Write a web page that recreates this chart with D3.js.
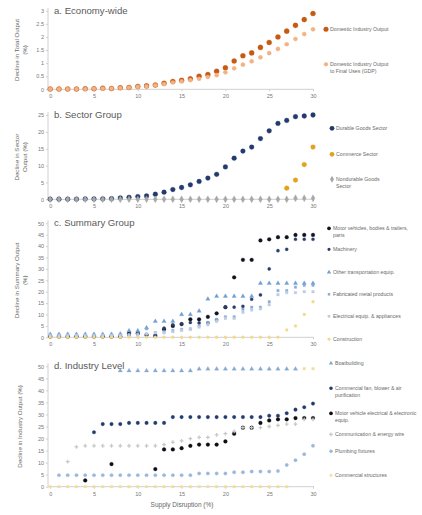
<!DOCTYPE html>
<html>
<head>
<meta charset="utf-8">
<script src="https://cdn.jsdelivr.net/npm/d3@7"></script>
<style>
  body { margin: 0; background: #fff; }
  text { font-family: "Liberation Sans", Arial, sans-serif; }
  .axis path, .axis line { stroke: #d0d0d0; }
  .axis text { fill: #777; font-size: 5.5px; }
  .ptitle { fill: #5a5a5a; font-size: 9.6px; }
  .ytitle { fill: #666; font-size: 6.2px; }
  .leg { fill: #6a6a6a; font-size: 5.2px; }
</style>
</head>
<body>
<div id="chart"></div>
<script>
// supply disruption (%) on x
var disruption = [0,1,2,3,4,5,6,7,8,9,10,11,12,13,14,15,16,17,18,19,20,21,22,23,24,25,26,27,28,29,30];

// a. economy-wide
var domesticOutput = [0.01,0.01,0.01,0.01,0.02,0.02,0.04,0.03,0.06,0.07,0.11,0.13,0.16,0.23,0.30,0.34,0.40,0.50,0.56,0.69,0.82,1.08,1.28,1.39,1.60,1.79,2.00,2.22,2.44,2.66,2.89];
var gdpOutput = [0.01,0.01,0.01,0.01,0.01,0.02,0.03,0.03,0.05,0.06,0.09,0.11,0.15,0.20,0.26,0.30,0.35,0.40,0.47,0.54,0.65,0.80,0.94,1.07,1.22,1.38,1.54,1.72,1.92,2.11,2.29];

// b. sector group
var durableGoods = [0.05,0.05,0.05,0.05,0.1,0.1,0.15,0.2,0.4,0.6,0.8,1.0,1.5,2.1,2.9,3.5,4.3,5.3,6.3,7.4,9.6,12.2,14.3,15.5,18.0,20.3,22.5,23.4,24.5,24.7,25.0];
var commerceSector = [null,null,null,null,null,null,null,null,null,null,null,null,null,null,null,null,null,null,null,null,null,null,null,null,null,null,null,3.3,5.7,10.3,15.5];
var nondurableGoods = [0,0,0,0,0,0,0,0,0,0,0,0,0,0,0,0,0,0,0,0,0,0,0,0,0,0,0,0,0.3,0.3,0.3];

// c. summary group
var motorVehicles = [0.3,0.3,0.3,0.3,0.3,0.3,0.3,0.3,0.3,1.8,1.8,1,0.6,3.5,5,5.8,7.9,7.9,9,10.5,13.2,26.3,34,34,42.5,43,43.9,43.9,44.9,44.9,44.9];
var machinery = [0.3,0.3,0.3,0.3,0.3,0.3,0.3,0.3,0.3,1,1.5,1.2,1,4,5.5,5.8,6.5,6.3,6.3,7.6,13.2,13.2,13.6,16.7,18.6,30,38,38.6,43,43,43];
var otherTransport = [1.3,1.3,1.3,1.3,1.3,1.3,1.3,1.3,1.5,2.9,2.9,4.2,7,7,7,10,10,11.5,16.8,18,18,18,18,18,23.7,23.7,23.7,23.7,23.7,23.7,23.7];
var fabricatedMetal = [1,1,1,1,1,1,1,1,1,1.3,1.5,3.7,2,2.5,3,3.5,3.7,5,6.5,7.9,9,9,12.3,13.2,13.2,15.6,20.5,20.5,22,22.8,22.8];
var electricalEquip = [0.8,0.8,0.8,0.8,0.8,0.8,0.8,0.8,0.8,0.8,1,1.5,2,2,2.5,3,3.5,4.5,5.5,7,8.3,8.3,11,12,12.5,14.3,18.7,19.6,19.6,20,20];
var construction = [0,0,0,0,0,0,0,0,0,0,0,0,0,0,0,0,0,0,0,0,0,0,0,0,0,0,0,3.2,5,10,15.6];

// d. industry level (null = point hidden under another series)
var boatbuilding = [null,null,null,null,null,null,null,null,48.2,48.2,48.2,48.2,48.2,48.2,48.2,48.2,48.2,48.9,48.9,48.9,48.9,48.9,48.9,48.9,48.9,48.9,48.9,48.9,48.9,null,null];
var commercialFan = [null,null,null,null,null,22.6,26,26,26,26.5,26.5,26.5,26.5,26.5,28.9,28.9,28.9,28.9,28.9,28.9,28.9,28.9,28.9,28.9,28.9,29.5,29.5,30.5,32,33,34.5];
var mvElectrical = [null,null,null,null,2.6,null,null,9.4,null,null,null,null,7.3,15.5,15.5,16,17,17.5,17.5,17.5,18.8,22,24.5,24.5,26.5,27.5,28,28,28.5,28.5,28.5];
var commWire = [null,null,10.4,16.5,17,17,17,17,17,17,17,17,17,17.5,18.5,19,20,20.5,20.5,21.5,22,23,24.5,24.5,24.5,25,25.5,26,26,28,28];
var plumbing = [null,4.8,4.8,4.8,4.8,4.8,4.8,4.8,4.8,4.8,4.8,4.8,4.8,4.8,4.8,4.8,4.8,5.5,5.5,5.5,5.5,6,6,6.3,6.3,6.3,6.5,9,11,13.5,17];
var commStructures = [0,0,0,0,0,0,0,0,0,0,0,0,0,0,0,0,0,0,0,0,0,0,0,0,0,0,0,0,null,49,49];

var panels = [
  { title: "a. Economy-wide", ytitle: ["Decline in Total Output", "(%)"], top: 10.7, bottom: 89.3, max: 3, step: 0.5,
    series: [
      { name: ["Domestic Industry Output"], values: domesticOutput, color: "#c55a11", shape: d3.symbolCircle, size: 20, ly: 31 },
      { name: ["Domestic Industry Output", "to Final Uses (GDP)"], values: gdpOutput, color: "#f4b183", shape: d3.symbolCircle, size: 14, ly: 66 }
    ], legX: 326 },
  { title: "b. Sector Group", ytitle: ["Decline in Sector", "Output (%)"], top: 115, bottom: 199.3, max: 25, step: 5,
    series: [
      { name: ["Durable Goods Sector"], values: durableGoods, color: "#223a6e", shape: d3.symbolCircle, size: 18, ly: 130 },
      { name: ["Commerce Sector"], values: commerceSector, color: "#e0a420", shape: d3.symbolCircle, size: 18, ly: 156 },
      { name: ["Nondurable Goods", "Sector"], values: nondurableGoods, color: "#a8a8a8", shape: d3.symbolDiamond, size: 14, ly: 181 }
    ], legX: 332 },
  { title: "c. Summary Group", ytitle: ["Decline in Summary Output", "(%)"], top: 223.3, bottom: 337.3, max: 50, step: 5,
    series: [
      { name: ["Motor vehicles, bodies & trailers,", "parts"], values: motorVehicles, color: "#10141f", shape: d3.symbolCircle, size: 11, ly: 230 },
      { name: ["Machinery"], values: machinery, color: "#2a3c6b", shape: d3.symbolCircle, size: 8, ly: 251 },
      { name: ["Other transportation equip."], values: otherTransport, color: "#6f9fd3", shape: d3.symbolTriangle, size: 8, ly: 274 },
      { name: ["Fabricated metal products"], values: fabricatedMetal, color: "#8aa9d6", shape: d3.symbolSquare, size: 6, ly: 296 },
      { name: ["Electrical equip. & appliances"], values: electricalEquip, color: "#bccde6", shape: d3.symbolSquare, size: 7, ly: 318 },
      { name: ["Construction"], values: construction, color: "#f3d98a", shape: d3.symbolCircle, size: 7, ly: 341 }
    ], legX: 329 },
  { title: "d. Industry Level", ytitle: ["Decline in Industry Output (%)"], top: 366.3, bottom: 486.7, max: 50, step: 5,
    series: [
      { name: ["Boatbuilding"], values: boatbuilding, color: "#84a9d2", shape: d3.symbolTriangle, size: 8, ly: 365 },
      { name: ["Commercial fan, blower & air", "purification"], values: commercialFan, color: "#223a6e", shape: d3.symbolCircle, size: 10, ly: 390 },
      { name: ["Motor vehicle electrical & electronic", "equip."], values: mvElectrical, color: "#0d0f14", shape: d3.symbolCircle, size: 11, ly: 415 },
      { name: ["Communication & energy wire"], values: commWire, color: "#c8c8c8", shape: d3.symbolCross, size: 8, ly: 436 },
      { name: ["Plumbing fixtures"], values: plumbing, color: "#9ab8dc", shape: d3.symbolCircle, size: 9, ly: 453 },
      { name: ["Commercial structures"], values: commStructures, color: "#f3df9e", shape: d3.symbolSquare, size: 7, ly: 477 }
    ], legX: 331 }
];

var svg = d3.select("#chart").append("svg")
  .attr("width", 422)
  .attr("height", 515);

var x = d3.scaleLinear().domain([-0.25, 30]).range([48, 313]);

panels.forEach(function(p) {
  var y = d3.scaleLinear().domain([0, p.max]).range([p.bottom, p.top]);
  var g = svg.append("g");

  var yticks = d3.range(0, p.max + p.step / 2, p.step);
  g.append("g").attr("class", "axis")
    .attr("transform", "translate(48,0)")
    .call(d3.axisLeft(y).tickValues(yticks).tickSize(2).tickPadding(2).tickFormat(d3.format("~g")))
    .call(function(a) { a.select(".domain").attr("d", "M0," + p.bottom + "V" + (p.top - 3)); });

  g.append("g").attr("class", "axis")
    .attr("transform", "translate(0," + p.bottom + ")")
    .call(d3.axisBottom(x).tickValues([0,5,10,15,20,25,30]).tickSize(2).tickPadding(3))
    .call(function(a) { a.select(".domain").attr("d", "M48,0H314"); });

  g.append("text").attr("class", "ptitle")
    .attr("x", 54).attr("y", p.top + 3)
    .text(p.title);

  var midY = (p.top + p.bottom) / 2;
  var yt = g.append("text").attr("class", "ytitle")
    .attr("transform", "translate(" + (p.ytitle.length > 1 ? 19 : 22) + "," + midY + ") rotate(-90)")
    .attr("text-anchor", "middle");
  p.ytitle.forEach(function(line, i) {
    yt.append("tspan").attr("x", 0).attr("dy", i == 0 ? 0 : 7.5).text(line);
  });

  p.series.forEach(function(s) {
    g.selectAll(null)
      .data(s.values.map(function(v, i) { return { x: disruption[i], v: v }; })
        .filter(function(d) { return d.v != null; }))
      .enter().append("path")
      .attr("d", d3.symbol().type(s.shape).size(s.size))
      .attr("transform", function(d) { return "translate(" + x(d.x) + "," + y(d.v) + ")"; })
      .attr("fill", s.color)
      .attr("stroke", s.color)
      .attr("stroke-width", s.shape === d3.symbolCross ? 0 : 0.3);

    g.append("path")
      .attr("d", d3.symbol().type(s.shape).size(s.size))
      .attr("transform", "translate(" + p.legX + "," + (s.ly - 1.7) + ")")
      .attr("fill", s.color);

    var lt = g.append("text").attr("class", "leg")
      .attr("x", p.legX + 4).attr("y", s.ly);
    s.name.forEach(function(line, i) {
      lt.append("tspan").attr("x", p.legX + 4).attr("dy", i == 0 ? 0 : 7).text(line);
    });
  });
});

svg.append("text")
  .attr("x", 182).attr("y", 507)
  .attr("text-anchor", "middle")
  .attr("fill", "#666")
  .style("font-size", "6.5px")
  .text("Supply Disruption (%)");
</script>
</body>
</html>
